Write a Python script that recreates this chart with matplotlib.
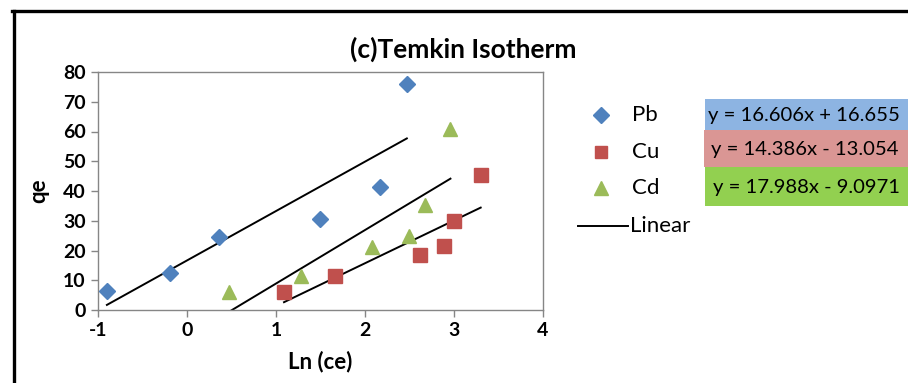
import matplotlib
matplotlib.use("Agg")
import matplotlib.pyplot as plt
from matplotlib.lines import Line2D
from matplotlib.patches import Rectangle
import numpy as np

plt.rcParams['font.family'] = ['Lato', 'DejaVu Sans']
plt.rcParams['axes.unicode_minus'] = False

# Data
pb_x = [-0.90, -0.19, 0.36, 1.49, 2.17, 2.47]
pb_y = [6.4, 12.4, 24.5, 30.6, 41.3, 76.0]
cu_x = [1.09, 1.66, 2.62, 2.89, 3.00, 3.30]
cu_y = [6.0, 11.4, 18.5, 21.5, 30.0, 45.4]
cd_x = [0.47, 1.28, 2.08, 2.49, 2.67, 2.96]
cd_y = [6.0, 11.4, 21.2, 25.0, 35.3, 61.0]
fits = {"Pb": (16.606, 16.655), "Cu": (14.386, -13.054), "Cd": (17.988, -9.0971)}
eq_labels = ["y = 16.606x + 16.655", "y = 14.386x - 13.054", "y = 17.988x - 9.0971"]
series_names = ["Pb", "Cu", "Cd"]
x_ticks = [-1, 0, 1, 2, 3, 4]
y_ticks = [0, 10, 20, 30, 40, 50, 60, 70, 80]

W, H = 908, 383
fig = plt.figure(figsize=(W/100, H/100), dpi=100)

def fx(px): return px / W
def fy(py): return 1 - py / H

ax = fig.add_axes([fx(98), fy(310), (543-98)/W, (310-72)/H])

colors = {"Pb": "#4f81bd", "Cu": "#c0504d", "Cd": "#9bbb59"}
markers = {"Pb": ("D", 8.5), "Cu": ("s", 9.5), "Cd": ("^", 10.5)}
data = {"Pb": (pb_x, pb_y), "Cu": (cu_x, cu_y), "Cd": (cd_x, cd_y)}

for name in series_names:
    xs, ys = data[name]
    m, s = markers[name]
    ax.plot(xs, ys, linestyle='none', marker=m, markersize=s,
            color=colors[name], markeredgecolor=colors[name], zorder=3)
    a, b = fits[name]
    lx = np.array([min(xs), max(xs)])
    ax.plot(lx, a*lx + b, color='black', lw=1.4, zorder=2)

ax.set_xlim(-1, 4)
ax.set_ylim(0, 80)
ax.set_xticks(x_ticks)
ax.set_yticks(y_ticks)
for sp in ax.spines.values():
    sp.set_color('#868686')
    sp.set_linewidth(1.0)
ax.tick_params(direction='out', length=5, color='#868686', width=1.0,
               labelsize=14, pad=4)
for lab in ax.get_xticklabels() + ax.get_yticklabels():
    lab.set_fontweight('bold')
ax.set_xlabel("Ln (ce)", fontsize=16, fontweight='bold', labelpad=8)
ax.set_ylabel("qe", fontsize=16, fontweight='bold', labelpad=10)

fig.text(fx(463), fy(49), "(c)Temkin Isotherm", fontsize=19, fontweight='bold',
         ha='center', va='center')

# Legend (manual)
leg_y = [115, 152, 188]
for name, py in zip(series_names, leg_y):
    m, s = markers[name]
    fig.add_artist(Line2D([fx(601)], [fy(py)], marker=m, markersize=s*0.9,
                          color=colors[name], linestyle='none'))
    fig.text(fx(632), fy(py), name, fontsize=16, ha='left', va='center')
fig.add_artist(Line2D([fx(578), fx(628)], [fy(226), fy(226)], color='black', lw=1.4))
fig.text(fx(630), fy(226), "Linear", fontsize=16, ha='left', va='center')

# Equation boxes
box_cols = ["#8db4e2", "#da9694", "#92d050"]
boxes = [(705, 99, 130), (704, 130, 167), (705, 167, 206)]
text_x = [708, 711, 713]
for (x0, y0, y1), c, lab, tx in zip(boxes, box_cols, eq_labels, text_x):
    fig.add_artist(Rectangle((fx(x0), fy(y1)), fx(W + 20 - x0), (y1 - y0)/H,
                             facecolor=c, edgecolor='none', transform=fig.transFigure))
    fig.text(fx(tx), fy((y0 + y1)/2 + 1), lab, fontsize=14.6, ha='left', va='center')

# Outer frame (partially visible)
fig.add_artist(Line2D([fx(13.5), fx(13.5)], [fy(10.5), fy(H + 10)], color='black', lw=2.4))
fig.add_artist(Line2D([fx(12), fx(W + 10)], [fy(10.5), fy(10.5)], color='black', lw=2.4))

fig.savefig("out.png", dpi=100)
